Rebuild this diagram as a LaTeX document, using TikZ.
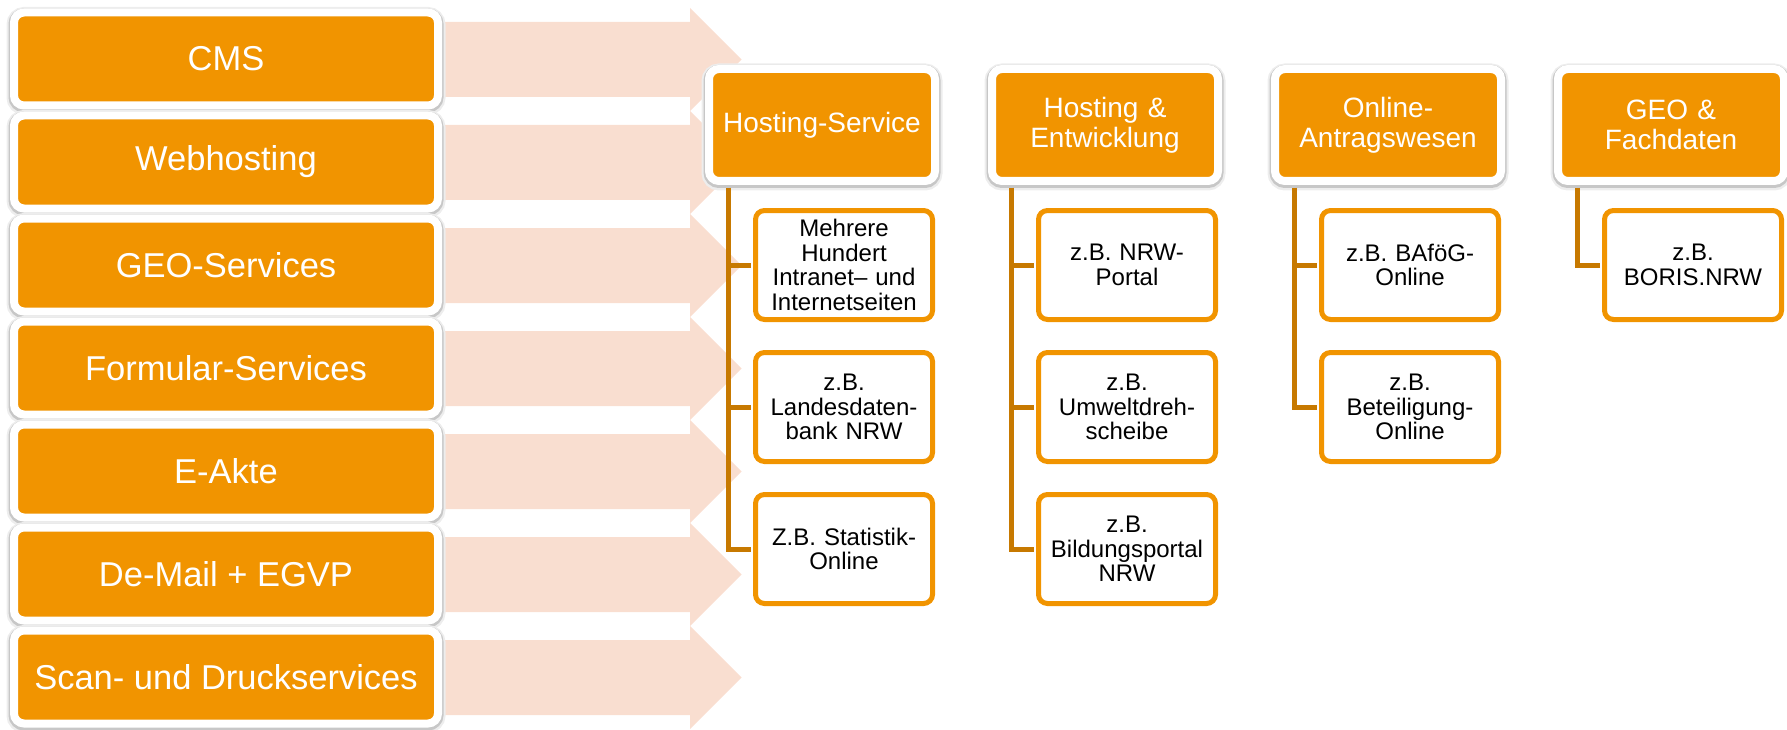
\documentclass[tikz,border=0pt]{standalone}
\usepackage{fontspec}
\setmainfont{Liberation Sans}

\begin{document}
\begin{tikzpicture}[
        x=1pt, y=-1pt,
        band/.style={
            fill={rgb,255:red,249; green,222; blue,208},  % Hex: #f9ded0
            draw=none
        },
        halo/.style={
            preaction={draw=black!7, line width=15pt, transform canvas={yshift=-2pt}},
            preaction={draw=black!22, line width=11pt, transform canvas={yshift=-1.5pt}}
        },
        service/.style={
            rectangle,
            rounded corners=10pt,
            fill={rgb,255:red,241; green,148; blue,0},  % Hex: #f19400
            draw=white,
            line width=8pt,
            minimum width=424pt,
            minimum height=93pt,
            text=white,
            font=\fontsize{34.5}{38}\selectfont,
            halo
        },
        area/.style={
            rectangle,
            rounded corners=10pt,
            fill={rgb,255:red,241; green,148; blue,0},  % Hex: #f19400
            draw=white,
            line width=8pt,
            minimum width=226pt,
            minimum height=112pt,
            text width=210pt,
            inner sep=4pt,
            align=center,
            text=white,
            font=\fontsize{28}{30}\selectfont,
            halo
        },
        example/.style={
            rectangle,
            rounded corners=9pt,
            fill=white,
            draw={rgb,255:red,241; green,148; blue,0},  % Hex: #f19400
            line width=5pt,
            minimum width=177pt,
            minimum height=109pt,
            text width=170pt,
            inner sep=3pt,
            align=center,
            text=black,
            font=\fontsize{24}{24.5}\selectfont
        },
        branch/.style={
            draw={rgb,255:red,199; green,121; blue,0},  % Hex: #c77900
            line width=5pt,
            shorten <=3pt,
            shorten >=2.5pt
        }
    ]
        \useasboundingbox (0,0) rectangle (1787,730);

        % Background arrows
        \foreach \i in {0,...,6} {
            \pgfmathsetmacro{\c}{59.5+103*\i}
            \fill[band] (300,\c-37.5) -- (690,\c-37.5) -- (690,\c-51.5) -- (741.5,\c)
                -- (690,\c+51.5) -- (690,\c+37.5) -- (300,\c+37.5) -- cycle;
        }

        % Services
        \foreach \txt [count=\i from 0] in {CMS, Webhosting, GEO-Services, Formular-Services,
                E-Akte, De-Mail + EGVP, Scan- und Druckservices} {
            \node[service] (svc\i) at (226,{59+103*\i}) {\txt};
        }

        % ============== Areas ==============
        \node[area] (hosting) at (822,125) {Hosting-Service};
        \node[area] (dev) at (1105,125) {Hosting \&\\Entwicklung};
        \node[area] (online) at (1388,125) {Online-\\Antragswesen};
        \node[area] (geo) at (1671,125) {GEO \&\\Fachdaten};

        % Examples
        \node[example] (hosting1) at (844,265) {Mehrere\\Hundert\\Intranet– und\\Internetseiten};
        \node[example] (hosting2) at (844,407) {z.B.\\Landesdaten-\\bank NRW};
        \node[example] (hosting3) at (844,549) {Z.B. Statistik-\\Online};

        \node[example] (dev1) at (1127,265) {z.B. NRW-\\Portal};
        \node[example] (dev2) at (1127,407) {z.B.\\Umweltdreh-\\scheibe};
        \node[example] (dev3) at (1127,549) {z.B.\\Bildungsportal\\NRW};

        \node[example] (online1) at (1410,265) {z.B. BAföG-\\Online};
        \node[example] (online2) at (1410,407) {z.B.\\Beteiligung-\\Online};

        \node[example] (geo1) at (1693,265) {z.B.\\BORIS.NRW};

        % Connectors
        \foreach \a/\b in {hosting/hosting1, hosting/hosting2, hosting/hosting3,
                dev/dev1, dev/dev2, dev/dev3, online/online1, online/online2, geo/geo1} {
            \draw[branch] ([xshift=23pt]\a.south west) |- (\b.west);
        }
    \end{tikzpicture}
\end{document}
